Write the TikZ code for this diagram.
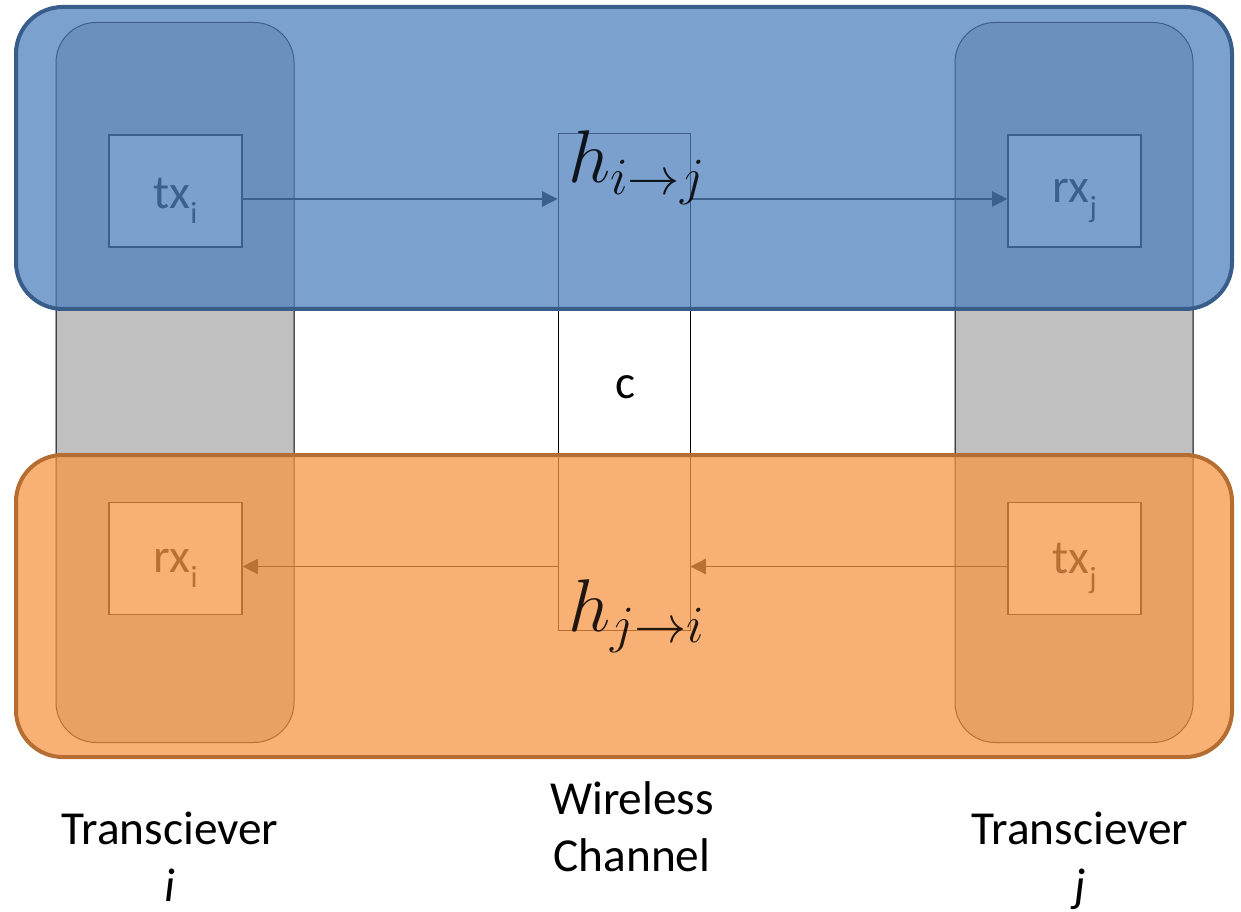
\RequirePackage{fix-cm}
\documentclass[tikz,border=0pt]{standalone}
\usepackage{fontspec}
\setmainfont{Carlito}
\usetikzlibrary{arrows.meta}

\definecolor{bandblue}{HTML}{4F81BD}
\definecolor{blueline}{HTML}{385D8A}
\definecolor{bandorange}{HTML}{F79646}
\definecolor{orangeline}{HTML}{B66D31}
\definecolor{colgray}{HTML}{C0C0C0}

% box label with a lowered subscript, set a little below the box centre
\newcommand{\unitlabel}[2]{\raisebox{-7.5pt}[\height][\depth]{#1\raisebox{-0.3em}{\fontsize{23}{23}\selectfont #2}}}

\begin{document}
\begin{tikzpicture}[x=0.75pt,y=-0.75pt,
  column/.style={draw=black, line width=0.75pt, fill=colgray, rounded corners=30pt,
    inner sep=0pt, minimum width=178.5pt, minimum height=540pt},
  channel/.style={draw=black, line width=0.75pt, fill=white, inner sep=0pt,
    minimum width=99pt, minimum height=372pt},
  unit/.style={draw=black, line width=0.9pt, fill=white, inner sep=0pt,
    minimum width=99.75pt, minimum height=84pt, font=\fontsize{36}{36}\selectfont},
  band/.style={line width=3pt, rounded corners=35pt, fill opacity=0.75, inner sep=0pt,
    minimum width=912pt, minimum height=226.5pt},
  arr/.style={-{Triangle[length=11.5pt,width=11.5pt]}, line width=1pt, draw=black},
  hlabel/.style={inner sep=0pt, text opacity=0.87, font=\fontsize{56}{56}\selectfont},
  lab/.style={inner sep=0pt, align=center, font=\fontsize{35.5}{42.75}\selectfont}]

\useasboundingbox (0,0) rectangle (1241,912);

% the two transceivers and the channel between them
\node[column] (coli) at (175,382.5) {};
\node[column] (colj) at (1074,382.5) {};
\node[channel] (ch) at (624,382) {};

% transmit and receive units
\node[unit] (txi) at (175.5,191) {\unitlabel{tx}{i}};
\node[unit] (rxj) at (1074.5,191) {\unitlabel{rx}{j}};
\node[unit] (rxi) at (175.5,558.5) {\unitlabel{rx}{i}};
\node[unit] (txj) at (1074.5,558.5) {\unitlabel{tx}{j}};

% links through the channel
\draw[arr] ([yshift=-6pt]txi.east) -- ([yshift=-6pt]txi.east -| ch.west);
\draw[arr] ([yshift=-6pt]rxj.west -| ch.east) -- ([yshift=-6pt]rxj.west);
\draw[arr] ([yshift=-6pt]txj.west) -- ([yshift=-6pt]txj.west -| ch.east);
\draw[arr] ([yshift=-6pt]rxi.east -| ch.west) -- ([yshift=-6pt]rxi.east);

% translucent direction bands
\node[band, fill=bandblue, draw=blueline] (fwd) at (624,158) {};
\node[band, fill=bandorange, draw=orangeline] (bwd) at (624,606) {};

% channel coefficients
\node[hlabel, anchor=base west] (hij) at (568,183) {$h_{i\to j}$};
\node[hlabel, anchor=base west] (hji) at (568,631) {$h_{j\to i}$};
\node[lab, anchor=base] (c) at (625,399) {c};

% captions (anchored at the baseline of their last line)
\node[lab, anchor=base] (tri) at (170,901.5) {Transciever\\\textit{i}};
\node[lab, anchor=base] (wch) at (632,871.5) {Wireless\\Channel};
\node[lab, anchor=base] (trj) at (1080,901.5) {Transciever\\\textit{j}};
\end{tikzpicture}
\end{document}
